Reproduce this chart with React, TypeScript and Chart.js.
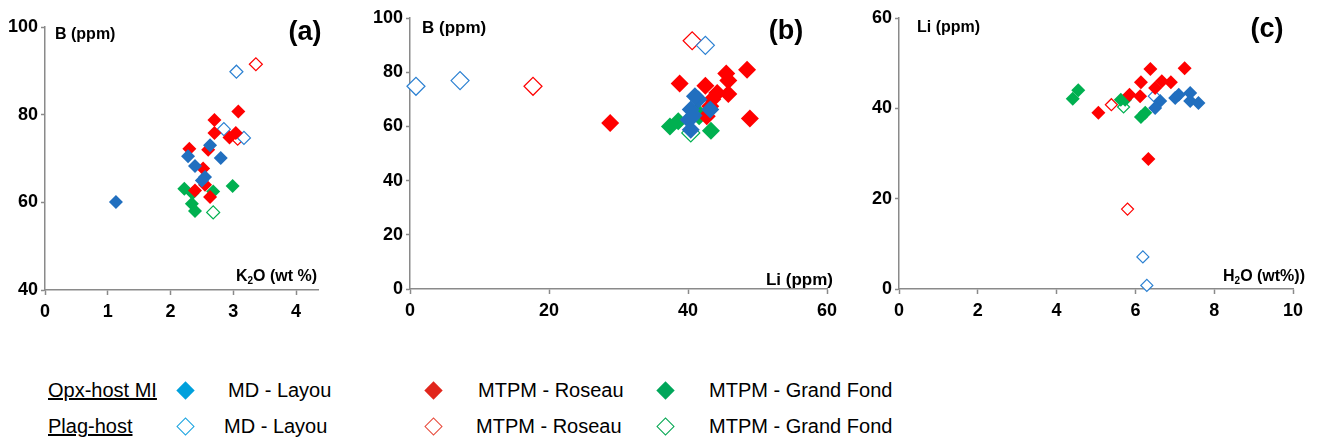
import React, { useEffect, useRef } from 'react';
import { Chart, registerables } from 'chart.js';

Chart.register(...registerables);

type P = [number, number];

// ---------- Panel (a): K2O (wt%) vs B (ppm) ----------
const opxLayouA: P[] = [[1.13, 60.1], [2.28, 70.5], [2.39, 68.3], [2.63, 73.0], [2.80, 70.1], [2.55, 65.8], [2.50, 65.0]];
const opxRoseauA: P[] = [[2.30, 72.2], [2.70, 78.8], [2.70, 75.8], [3.08, 80.7], [2.94, 74.8], [3.04, 75.8], [2.60, 72.0], [2.52, 67.7], [2.55, 64.0], [2.63, 61.2], [2.39, 62.7]];
const opxGrandFondA: P[] = [[2.22, 63.1], [2.35, 62.1], [2.34, 59.7], [2.39, 58.0], [2.68, 62.5], [2.99, 63.7]];
const plagLayouA: P[] = [[3.05, 89.8], [2.85, 76.7], [3.17, 74.7]];
const plagRoseauA: P[] = [[3.36, 91.5], [3.07, 74.5]];
const plagGrandFondA: P[] = [[2.68, 57.7]];
const xTicksA = [0, 1, 2, 3, 4];
const yTicksA = [40, 60, 80, 100];

// ---------- Panel (b): Li (ppm) vs B (ppm) ----------
const opxLayouB: P[] = [[41.5, 69.9], [41.0, 71.1], [40.4, 66.2], [40.1, 62.5], [40.4, 58.8], [43.2, 66.2], [40.8, 64.0]];
const opxRoseauB: P[] = [[28.8, 61.3], [38.8, 75.8], [42.5, 75.0], [45.5, 79.5], [48.5, 80.9], [48.9, 62.9], [45.8, 76.9], [45.8, 72.0], [44.2, 72.3], [43.2, 67.4], [42.7, 63.7], [43.5, 70.0]];
const opxGrandFondB: P[] = [[37.4, 60.0], [38.6, 61.9], [41.6, 63.7], [41.3, 65.5], [43.3, 58.4]];
const plagLayouB: P[] = [[0.86, 74.8], [7.2, 76.9], [42.5, 89.9]];
const plagRoseauB: P[] = [[17.7, 74.8], [40.6, 91.6]];
const plagGrandFondB: P[] = [[40.4, 57.6]];
const xTicksB = [0, 20, 40, 60];
const yTicksB = [0, 20, 40, 60, 80, 100];

// ---------- Panel (c): H2O (wt%) vs Li (ppm) ----------
const opxLayouC: P[] = [[6.63, 41.6], [6.50, 40.1], [7.01, 42.3], [7.10, 43.0], [7.39, 43.4], [7.39, 41.6], [7.60, 41.2]];
const opxRoseauC: P[] = [[5.06, 39.0], [5.85, 43.0], [6.14, 45.8], [6.12, 42.7], [6.38, 48.7], [6.33, 28.8], [6.50, 44.5], [6.67, 46.0], [6.90, 45.8], [7.25, 48.9]];
const opxGrandFondC: P[] = [[4.41, 42.1], [4.55, 44.0], [5.63, 41.9], [5.74, 41.9], [6.14, 38.1], [6.25, 39.0]];
const plagLayouC: P[] = [[6.19, 7.1], [6.29, 0.8], [6.48, 42.7]];
const plagRoseauC: P[] = [[5.39, 40.8], [5.80, 17.7]];
const plagGrandFondC: P[] = [[5.70, 40.3]];
const xTicksC = [0, 2, 4, 6, 8, 10];
const yTicksC = [0, 20, 40, 60];

// ---------- Legend ----------
const legendRows = ['Opx-host MI', 'Plag-host'];
const legendSeries = ['MD - Layou', 'MTPM - Roseau', 'MTPM - Grand Fond'];

const FONT = "'Liberation Sans', Arial, sans-serif";
const AXIS = '#8a8a8a';
const BLUE = '#216fbf';
const BLUE_OPEN = '#2b80d2';
const RED = '#ff0000';
const GREEN = '#00b050';

type Seg = { t: string; sub?: boolean };
type TextItem = { segs: Seg[]; x: number; y: number; align: 'left' | 'center' | 'right'; size: number };

interface PanelCfg {
  left: number;
  width: number;
  height: number;
  yAxisWidth: number;
  padTop: number;
  padRight: number;
  xAxisHeight: number;
  xMin: number;
  xMax: number;
  yMin: number;
  yMax: number;
  xTicks: number[];
  yTicks: number[];
  rFilled: number;
  rOpen: number;
  series: P[][];
  texts: TextItem[];
}

const toXY = (arr: P[]) => arr.map(([x, y]) => ({ x, y }));

function drawRich(ctx: CanvasRenderingContext2D, item: TextItem) {
  const subSize = Math.round(item.size * 0.65);
  const widths = item.segs.map((s) => {
    ctx.font = `bold ${s.sub ? subSize : item.size}px ${FONT}`;
    return ctx.measureText(s.t).width;
  });
  const total = widths.reduce((a, b) => a + b, 0);
  let x = item.x;
  if (item.align === 'center') x -= total / 2;
  if (item.align === 'right') x -= total;
  ctx.save();
  ctx.fillStyle = '#000';
  ctx.textAlign = 'left';
  ctx.textBaseline = 'middle';
  item.segs.forEach((s, i) => {
    ctx.font = `bold ${s.sub ? subSize : item.size}px ${FONT}`;
    ctx.fillText(s.t, x, s.sub ? item.y + item.size * 0.28 : item.y);
    x += widths[i];
  });
  ctx.restore();
}

function Panel({ cfg }: { cfg: PanelCfg }) {
  const ref = useRef<HTMLCanvasElement | null>(null);
  useEffect(() => {
    if (!ref.current) return;
    const styles = [
      { bg: BLUE, border: BLUE, open: false },
      { bg: RED, border: RED, open: false },
      { bg: GREEN, border: GREEN, open: false },
      { bg: '#ffffff', border: BLUE_OPEN, open: true },
      { bg: '#ffffff', border: RED, open: true },
      { bg: '#ffffff', border: GREEN, open: true },
    ];
    const datasets = cfg.series.map((s, i) => ({
      data: toXY(s),
      pointStyle: 'rectRot' as const,
      pointRadius: styles[i].open ? cfg.rOpen : cfg.rFilled,
      pointBackgroundColor: styles[i].bg,
      pointBorderColor: styles[i].border,
      pointBorderWidth: styles[i].open ? 1.2 : 0,
      clip: false as const,
    }));
    const textPlugin = {
      id: 'panelText',
      afterDraw(chart: any) {
        cfg.texts.forEach((t) => drawRich(chart.ctx, t));
      },
    };
    const tickFont = { family: FONT, size: 18, weight: 'bold' as const };
    const chart = new Chart(ref.current, {
      type: 'scatter',
      data: { datasets },
      options: {
        responsive: false,
        animation: false,
        events: [],
        layout: { padding: { top: cfg.padTop, right: cfg.padRight, left: 0, bottom: 0 } },
        plugins: { legend: { display: false }, tooltip: { enabled: false } },
        scales: {
          x: {
            type: 'linear',
            min: cfg.xMin,
            max: cfg.xMax,
            afterBuildTicks: (s: any) => {
              s.ticks = cfg.xTicks.map((v) => ({ value: v }));
            },
            afterFit: (s: any) => {
              s.height = cfg.xAxisHeight;
            },
            grid: { drawOnChartArea: false, tickLength: 5, tickColor: AXIS, tickWidth: 1.5 },
            border: { color: AXIS, width: 1.5 },
            ticks: { font: tickFont, color: '#000', padding: 6, maxRotation: 0, autoSkip: false },
          },
          y: {
            type: 'linear',
            min: cfg.yMin,
            max: cfg.yMax,
            afterBuildTicks: (s: any) => {
              s.ticks = cfg.yTicks.map((v) => ({ value: v }));
            },
            afterFit: (s: any) => {
              s.width = cfg.yAxisWidth;
            },
            grid: { drawOnChartArea: false, tickLength: 4, tickColor: AXIS, tickWidth: 1.5 },
            border: { color: AXIS, width: 1.5 },
            ticks: { font: tickFont, color: '#000', padding: 3, autoSkip: false },
          },
        },
      },
      plugins: [textPlugin],
    });
    return () => chart.destroy();
  }, [cfg]);
  return (
    <canvas
      ref={ref}
      width={cfg.width}
      height={cfg.height}
      style={{ position: 'absolute', left: cfg.left, top: 0, width: cfg.width, height: cfg.height }}
    />
  );
}

const panelA: PanelCfg = {
  left: 0, width: 330, height: 340, yAxisWidth: 45, padTop: 27, padRight: 12, xAxisHeight: 50,
  xMin: 0, xMax: 4.35, yMin: 40, yMax: 100, xTicks: xTicksA, yTicks: yTicksA, rFilled: 7, rOpen: 6.5,
  series: [opxLayouA, opxRoseauA, opxGrandFondA, plagLayouA, plagRoseauA, plagGrandFondA],
  texts: [
    { segs: [{ t: 'B (ppm)' }], x: 55, y: 35, align: 'left', size: 16 },
    { segs: [{ t: '(a)' }], x: 305, y: 33, align: 'center', size: 27 },
    { segs: [{ t: 'K' }, { t: '2', sub: true }, { t: 'O (wt %)' }], x: 317, y: 277, align: 'right', size: 16 },
  ],
};

const panelB: PanelCfg = {
  left: 340, width: 510, height: 340, yAxisWidth: 70, padTop: 18, padRight: 23, xAxisHeight: 51,
  xMin: 0, xMax: 60, yMin: 0, yMax: 100, xTicks: xTicksB, yTicks: yTicksB, rFilled: 9, rOpen: 9,
  series: [opxLayouB, opxRoseauB, opxGrandFondB, plagLayouB, plagRoseauB, plagGrandFondB],
  texts: [
    { segs: [{ t: 'B (ppm)' }], x: 82, y: 28, align: 'left', size: 17 },
    { segs: [{ t: '(b)' }], x: 446, y: 32, align: 'center', size: 27 },
    { segs: [{ t: 'Li (ppm)' }], x: 493, y: 280, align: 'right', size: 17 },
  ],
};

const panelC: PanelCfg = {
  left: 850, width: 469, height: 340, yAxisWidth: 49, padTop: 18, padRight: 26, xAxisHeight: 51,
  xMin: 0, xMax: 10, yMin: 0, yMax: 60, xTicks: xTicksC, yTicks: yTicksC, rFilled: 7, rOpen: 6,
  series: [opxLayouC, opxRoseauC, opxGrandFondC, plagLayouC, plagRoseauC, plagGrandFondC],
  texts: [
    { segs: [{ t: 'Li (ppm)' }], x: 67, y: 28, align: 'left', size: 16 },
    { segs: [{ t: '(c)' }], x: 417, y: 30, align: 'center', size: 27 },
    { segs: [{ t: 'H' }, { t: '2', sub: true }, { t: 'O (wt%))' }], x: 455, y: 277, align: 'right', size: 16 },
  ],
};

function Diamond({ cx, cy, color, open }: { cx: number; cy: number; color: string; open: boolean }) {
  const s = 13;
  return (
    <div
      style={{
        position: 'absolute',
        left: cx - s / 2,
        top: cy - s / 2,
        width: s,
        height: s,
        boxSizing: 'border-box',
        background: open ? '#fff' : color,
        border: open ? `1.3px solid ${color}` : 'none',
        transform: 'rotate(45deg)',
      }}
    />
  );
}

function Label({ text, x, cy, underline }: { text: string; x: number; cy: number; underline?: boolean }) {
  return (
    <div
      style={{
        position: 'absolute',
        left: x,
        top: cy - 12,
        height: 24,
        lineHeight: '24px',
        fontFamily: FONT,
        fontSize: 20,
        color: '#000',
        whiteSpace: 'nowrap',
        textDecoration: underline ? 'underline' : 'none',
      }}
    >
      {text}
    </div>
  );
}

export default function App() {
  const rowY = [390, 426];
  const markerX = [185, 433, 665];
  const textX = [[228, 478, 709], [224, 476, 709]];
  const filledColors = ['#00a0dc', '#e1261c', '#00a65a'];
  const openColors = ['#1aa3e0', '#e84a3b', '#00a650'];
  return (
    <div style={{ position: 'absolute', left: 0, top: 0, width: 1319, height: 442, background: '#fff', overflow: 'hidden' }}>
      <Panel cfg={panelA} />
      <Panel cfg={panelB} />
      <Panel cfg={panelC} />
      {legendRows.map((r, ri) => (
        <React.Fragment key={r}>
          <Label text={r} x={48} cy={rowY[ri]} underline />
          {legendSeries.map((s, si) => (
            <React.Fragment key={s}>
              <Diamond cx={markerX[si]} cy={rowY[ri]} color={ri === 0 ? filledColors[si] : openColors[si]} open={ri === 1} />
              <Label text={s} x={textX[ri][si]} cy={rowY[ri]} />
            </React.Fragment>
          ))}
        </React.Fragment>
      ))}
    </div>
  );
}
